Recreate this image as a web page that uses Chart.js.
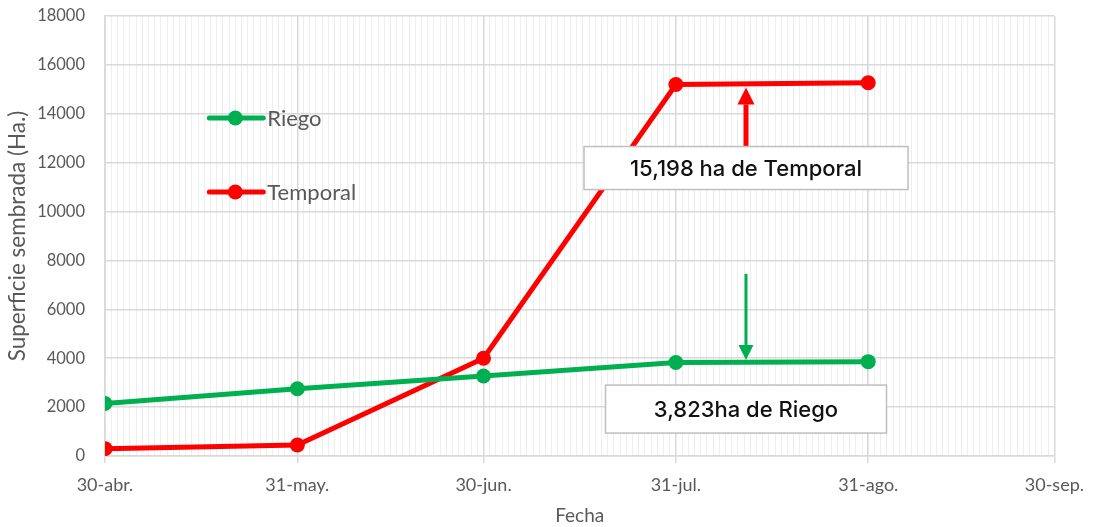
<!DOCTYPE html>
<html>
<head>
<meta charset="utf-8">
<script src="https://cdn.jsdelivr.net/npm/chart.js@4.4.0/dist/chart.umd.min.js"></script>
<style>
  html, body { margin: 0; padding: 0; background: #fff; }
  #wrap { width: 1095px; height: 527px; }
</style>
</head>
<body>
<div id="wrap"><canvas id="myChart"></canvas></div>
<script>
// fechas del eje (dias contados desde 30-abr.)
const fechas = ['30-abr.', '31-may.', '30-jun.', '31-jul.', '31-ago.', '30-sep.'];
const dias = [0, 31, 61, 92, 123, 153];

// superficie sembrada (ha) en cada corte
const diasCorte = [0, 31, 61, 92, 123];
const riego = [2150, 2750, 3270, 3823, 3860];
const temporal = [300, 450, 4000, 15198, 15270];

const yTicks = [0, 2000, 4000, 6000, 8000, 10000, 12000, 14000, 16000, 18000];

const VERDE = '#00b050';
const ROJO = '#ff0000';
const GRIS = '#595959';

// cuadros de texto con flecha (posicion en dia / valor)
const notas = [
    {texto: '15,198 ha de Temporal', dia: 103.3, valor: 11780, ancho: 324, alto: 43,
     color: ROJO, flechaDe: 12660, flechaA: 15080, grosor: 5, punta: 17},
    {texto: '3,823ha de Riego', dia: 103.3, valor: 1920, ancho: 281, alto: 48,
     color: VERDE, flechaDe: 7450, flechaA: 3930, grosor: 3, punta: 15}
];

const leyenda = [
    {nombre: 'Riego', color: VERDE, dia: 21, valor: 13830},
    {nombre: 'Temporal', color: ROJO, dia: 21, valor: 10800}
];

function toXY(xs, ys) {
    const out = [];
    for (let i = 0; i < ys.length; i++) out.push({x: xs[i], y: ys[i]});
    return out;
}

const extras = {
    id: 'extras',
    afterDatasetsDraw(chart) {
        const ctx = chart.ctx;
        const xs = chart.scales.x;
        const ys = chart.scales.y;
        ctx.save();
        // leyenda dentro del area
        leyenda.forEach(l => {
            const cx = xs.getPixelForValue(l.dia);
            const cy = ys.getPixelForValue(l.valor);
            ctx.strokeStyle = l.color;
            ctx.lineWidth = 5;
            ctx.lineCap = 'round';
            ctx.beginPath();
            ctx.moveTo(cx - 26, cy);
            ctx.lineTo(cx + 28, cy);
            ctx.stroke();
            ctx.fillStyle = l.color;
            ctx.beginPath();
            ctx.arc(cx, cy, 7.5, 0, Math.PI * 2);
            ctx.fill();
            ctx.fillStyle = GRIS;
            ctx.font = '22px Lato';
            ctx.textAlign = 'left';
            ctx.textBaseline = 'middle';
            ctx.fillText(l.nombre, cx + 32, cy + 1);
        });
        // flechas y cuadros
        notas.forEach(n => {
            const cx = xs.getPixelForValue(n.dia);
            const y0 = ys.getPixelForValue(n.flechaDe);
            const y1 = ys.getPixelForValue(n.flechaA);
            const dir = y1 < y0 ? -1 : 1;
            ctx.fillStyle = n.color;
            ctx.fillRect(cx - n.grosor / 2, Math.min(y0, y1 - dir * n.punta), n.grosor, Math.abs(y1 - dir * n.punta - y0));
            ctx.beginPath();
            ctx.moveTo(cx, y1);
            ctx.lineTo(cx - n.punta / 2, y1 - dir * n.punta);
            ctx.lineTo(cx + n.punta / 2, y1 - dir * n.punta);
            ctx.closePath();
            ctx.fill();

            const by = ys.getPixelForValue(n.valor);
            const bx = cx - n.ancho / 2;
            ctx.fillStyle = '#ffffff';
            ctx.fillRect(bx, by - n.alto / 2, n.ancho, n.alto);
            ctx.strokeStyle = '#bfbfbf';
            ctx.lineWidth = 1.5;
            ctx.strokeRect(bx, by - n.alto / 2, n.ancho, n.alto);
            ctx.fillStyle = '#111111';
            ctx.font = '500 22px Inter';
            ctx.textAlign = 'center';
            ctx.textBaseline = 'middle';
            ctx.fillText(n.texto, cx, by + 1);
        });
        ctx.restore();
    }
};

const ctx = document.getElementById('myChart').getContext('2d');
window.myChart = new Chart(ctx, {
    type: 'line',
    data: {
        datasets: [{
            label: 'Riego',
            data: toXY(diasCorte, riego),
            borderColor: VERDE,
            backgroundColor: VERDE,
            borderWidth: 5,
            pointRadius: 7.5,
            pointBorderWidth: 0,
            pointBackgroundColor: VERDE
        }, {
            label: 'Temporal',
            data: toXY(diasCorte, temporal),
            borderColor: ROJO,
            backgroundColor: ROJO,
            borderWidth: 5,
            pointRadius: 7.5,
            pointBorderWidth: 0,
            pointBackgroundColor: ROJO
        }]
    },
    options: {
        responsive: true,
        maintainAspectRatio: false,
        animation: false,
        layout: {padding: {left: 4, right: 38, top: 16, bottom: 0}},
        plugins: {legend: {display: false}, tooltip: {enabled: false}},
        scales: {
            xMinor: {  // lineas diarias
                type: 'linear',
                position: 'bottom',
                min: 0,
                max: 153,
                z: -1,
                ticks: {display: false, stepSize: 1, maxTicksLimit: 400},
                grid: {color: '#eeeeee', lineWidth: 1, drawTicks: false},
                border: {display: false},
                afterFit(scale) { scale.height = 0; }
            },
            x: {
                type: 'linear',
                position: 'bottom',
                min: 0,
                max: 153,
                afterBuildTicks(scale) { scale.ticks = dias.map(d => ({value: d})); },
                ticks: {
                    autoSkip: false,
                    maxRotation: 0,
                    padding: 11,
                    color: GRIS,
                    font: {family: 'Lato', size: 18},
                    callback: (v) => fechas[dias.indexOf(v)]
                },
                grid: {color: '#d9d9d9', lineWidth: 1.5, tickLength: 7},
                border: {color: '#d9d9d9', width: 1.5},
                title: {display: true, text: 'Fecha', color: GRIS, font: {family: 'Lato', size: 19}, padding: {top: 12, bottom: 0}},
                afterFit(scale) { scale.height = 71; }
            },
            y: {
                min: 0,
                max: 18000,
                afterBuildTicks(scale) { scale.ticks = yTicks.map(v => ({value: v})); },
                ticks: {
                    color: GRIS,
                    padding: 20,
                    font: {family: 'Lato', size: 16.5},
                    callback: (v) => String(v)
                },
                grid: {color: '#d9d9d9', lineWidth: 1.5, drawTicks: false},
                border: {color: '#d9d9d9', width: 1.5},
                title: {display: true, text: 'Superficie sembrada (Ha.)', color: GRIS, font: {family: 'Lato', size: 22.5}, padding: {top: 0, bottom: 4}},
                afterFit(scale) { scale.width = 101; scale.paddingTop = 0; scale.paddingBottom = 0; }
            }
        }
    },
    plugins: [extras]
});
</script>
</body>
</html>
